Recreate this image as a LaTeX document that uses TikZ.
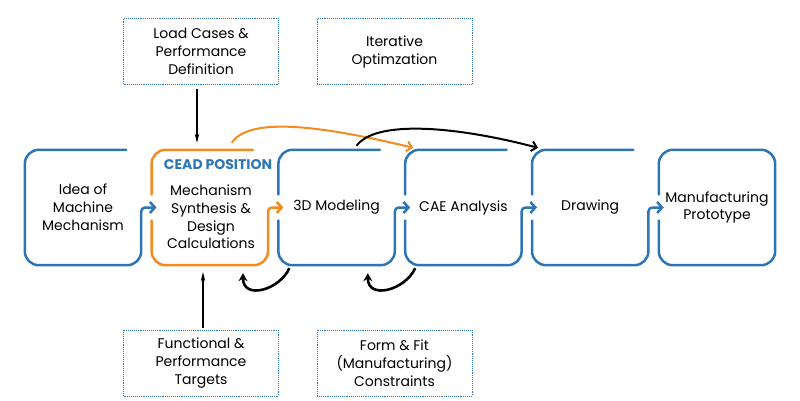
\documentclass[tikz,border=0pt]{standalone}
\usepackage{fontspec}
\setmainfont{Poppins}
\usetikzlibrary{arrows.meta}
\definecolor{ceadblue}{HTML}{2E75B6}
\definecolor{ceadorange}{HTML}{F58A1F}

\begin{document}
\begin{tikzpicture}
[x=1pt,y=1pt,
stage/.style={minimum width=116pt, minimum height=115pt, inner sep=0pt, align=center, font=\fontsize{14}{17.8}\selectfont},
input/.style={draw=ceadblue, densely dotted, line width=0.9pt, minimum width=155pt, minimum height=66pt, inner sep=0pt, align=center, font=\fontsize{14}{18}\selectfont},
frame/.style={draw=ceadblue, line width=2.5pt, rounded corners=14pt, line cap=round},
flow/.style={draw=ceadblue, line width=2.5pt, rounded corners=4pt, -{Straight Barb[length=5pt,width=11pt]}},
feed/.style={draw, line width=1.2pt, -{Stealth[length=9pt,width=4.5pt]}},
loop/.style={draw, line width=2pt, -{Straight Barb[length=5pt,width=10pt]}},
back/.style={draw, line width=2.6pt, -{Stealth[length=8pt,width=9pt]}}]

\useasboundingbox (0,0) rectangle (800,400);

\node[stage] (s1) at (83,192.5) {Idea of\\Machine\\Mechanism};
\node[stage] (s2) at (209.8,192.5) {};
\node[stage] (s3) at (336.6,192.5) {3D Modeling};
\node[stage] (s4) at (463.4,192.5) {CAE Analysis};
\node[stage] (s5) at (590.2,192.5) {Drawing};
\node[stage] (s6) at (717,192.5) {Manufacturing\\Prototype};

\node[font=\fontsize{14}{16}\selectfont\bfseries, text=ceadblue] (cead) at (218,235) {CEAD POSITION};
\node[stage, minimum height=0pt] (s2text) at (211,183) {Mechanism\\Synthesis \&\\Design\\Calculations};

\node[input] (load) at (201,348.5) {Load Cases \&\\Performance\\Definition};
\node[input] (iter) at (394.5,348.5) {Iterative\\Optimzation};
\node[input] (func) at (201,37) {Functional \&\\Performance\\Targets};
\node[input] (form) at (394.5,37) {Form \& Fit\\(Manufacturing)\\Constraints};

% STAGE FRAMES
\draw [frame] ([xshift=-15pt]s1.north east) -- (s1.north west) -- (s1.south west) -- (s1.south east) -- ([yshift=-6pt]s1.east);

\draw [frame, draw=ceadorange] ([yshift=-13pt]s2.west) -- (s2.south west) -- (s2.south east) -- ([yshift=-6pt]s2.east);
\draw [frame, draw=ceadorange] ([yshift=13pt]s2.west) -- (s2.north west) -- ([xshift=-15pt]s2.north east);

\draw [frame] ([yshift=-13pt]s3.west) -- (s3.south west) -- (s3.south east) -- ([yshift=-6pt]s3.east);
\draw [frame] ([yshift=13pt]s3.west) -- (s3.north west) -- ([xshift=-15pt]s3.north east);

\draw [frame] ([yshift=-13pt]s4.west) -- (s4.south west) -- (s4.south east) -- ([yshift=-6pt]s4.east);
\draw [frame] ([yshift=13pt]s4.west) -- (s4.north west) -- ([xshift=-15pt]s4.north east);

\draw [frame] ([yshift=-13pt]s5.west) -- (s5.south west) -- (s5.south east) -- ([yshift=-6pt]s5.east);
\draw [frame] ([yshift=13pt]s5.west) -- (s5.north west) -- ([xshift=-15pt]s5.north east);

\draw [frame] ([yshift=13pt]s6.west) -- (s6.north west) -- (s6.north east) -- (s6.south east) -- (s6.south west) -- ([yshift=-13pt]s6.west);

% FLOW
\draw [flow] ([yshift=-6pt]s1.east) |- ([xshift=5pt]s2.west);
\draw [flow, draw=ceadorange] ([yshift=-6pt]s2.east) |- ([xshift=5pt]s3.west);
\draw [flow] ([yshift=-6pt]s3.east) |- ([xshift=5pt]s4.west);
\draw [flow] ([yshift=-6pt]s4.east) |- ([xshift=5pt]s5.west);
\draw [flow] ([yshift=-6pt]s5.east) |- ([xshift=5pt]s6.west);

% INPUTS
\draw [feed] ([xshift=-4pt,yshift=-4pt]load.south) -- ([xshift=-4pt,yshift=7pt]load.south |- s2.north);
\draw [feed] ([xshift=2pt,yshift=2pt]func.north) -- ([xshift=2pt,yshift=-7pt]func.north |- s2.south);

% ITERATION
\draw [loop, draw=ceadorange] ([shift={(22,7)}]s2.north) .. controls +(18,28) and +(-83,20) .. ([shift={(8,2)}]s4.north west);
\draw [loop] ([shift={(20,4)}]s3.north) .. controls +(18,25) and +(-88,23) .. ([shift={(6,2)}]s5.north west);
\draw [back] ([shift={(11,-3)}]s3.south west) .. controls +(-10,-22) and +(0,-27) .. ([shift={(-25,-8)}]s2.south east);
\draw [back] ([shift={(10,-3)}]s4.south west) .. controls +(-10,-22) and +(0,-27) .. ([shift={(-27,-8)}]s3.south east);
\end{tikzpicture}
\end{document}
